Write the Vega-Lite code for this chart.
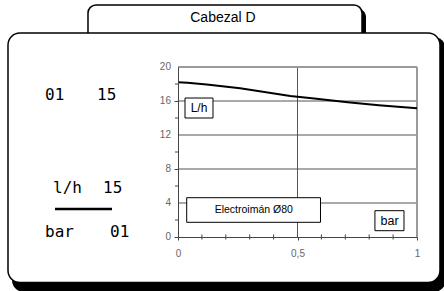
{
  "$schema": "https://vega.github.io/schema/vega-lite/v6.json",
  "width": 239,
  "height": 170,
  "autosize": "none",
  "padding": {"left": 178, "top": 67, "right": 27, "bottom": 54},
  "background": "white",
  "config": {
    "view": {"stroke": null},
    "font": "Liberation Sans"
  },
  "datasets": {
    "curve": [
      {"x": 0, "y": 18.2},
      {"x": 0.04, "y": 18.15},
      {"x": 0.12, "y": 17.95},
      {"x": 0.26, "y": 17.5},
      {"x": 0.47, "y": 16.6},
      {"x": 0.57, "y": 16.3},
      {"x": 0.71, "y": 15.85},
      {"x": 0.84, "y": 15.5},
      {"x": 1, "y": 15.15}
    ],
    "hgrid": [{"v": 4}, {"v": 8}, {"v": 12}, {"v": 16}],
    "vgrid": [{"v": 0.5}],
    "ylab": [{"v": 0}, {"v": 4}, {"v": 8}, {"v": 12}, {"v": 16}, {"v": 20}],
    "xminor": [{"v": 0.1}, {"v": 0.2}, {"v": 0.3}, {"v": 0.4}, {"v": 0.6}, {"v": 0.7}, {"v": 0.8}, {"v": 0.9}],
    "yminor": [{"v": 2}, {"v": 6}, {"v": 10}, {"v": 14}, {"v": 18}],
    "one": [{}]
  },
  "layer": [
    {
      "data": {"name": "one"},
      "mark": {"type": "rect", "color": "black", "cornerRadius": 8},
      "encoding": {
        "x": {"datum": -0.3724, "type": "quantitative", "scale": {"domain": [0, 1], "nice": false, "zero": false},
          "axis": {
            "title": null, "grid": false, "zindex": 1,
            "values": [0, 0.5, 1],
            "labelExpr": "datum.value == 0.5 ? '0,5' : (datum.value == 0 ? '0' : '1')",
            "labelOverlap": false, "labelBound": false, "labelFlush": false,
            "domainColor": "#444444", "tickColor": "#444444", "tickSize": 3,
            "labelColor": "#666666", "labelFontSize": 10, "labelFont": "Liberation Sans",
            "labelPadding": 8
          }},
        "x2": {"datum": 0.7866},
        "y": {"datum": 26.82, "type": "quantitative", "scale": {"domain": [0, 20], "nice": false, "zero": false},
          "axis": {
            "title": null, "grid": false, "zindex": 1, "labels": false,
            "values": [0, 4, 8, 12, 16, 20],
            "domainColor": "#444444", "tickColor": "#444444", "tickSize": 4
          }},
        "y2": {"datum": 22}
      }
    },
    {
      "data": {"name": "one"},
      "mark": {"type": "rect", "fill": "white", "stroke": "black", "strokeWidth": 1.5, "cornerRadius": 8},
      "encoding": {
        "x": {"datum": -0.3766, "type": "quantitative"},
        "x2": {"datum": 0.7699},
        "y": {"datum": 27.29, "type": "quantitative"},
        "y2": {"datum": 22}
      }
    },
    {
      "data": {"name": "one"},
      "mark": {"type": "rect", "color": "black", "cornerRadius": 12},
      "encoding": {
        "x": {"datum": -0.6946, "type": "quantitative"},
        "x2": {"datum": 1.1213},
        "y": {"datum": 23.53, "type": "quantitative"},
        "y2": {"datum": -6.47}
      }
    },
    {
      "data": {"name": "one"},
      "mark": {"type": "rect", "fill": "white", "stroke": "black", "strokeWidth": 1.5, "cornerRadius": 12},
      "encoding": {
        "x": {"datum": -0.7113, "type": "quantitative"},
        "x2": {"datum": 1.0962},
        "y": {"datum": 24, "type": "quantitative"},
        "y2": {"datum": -5.35}
      }
    },
    {
      "data": {"name": "one"},
      "mark": {"type": "text", "text": "Cabezal  D", "fontSize": 14, "font": "Liberation Sans", "align": "center", "baseline": "middle", "color": "black"},
      "encoding": {"x": {"datum": 0.188, "type": "quantitative"}, "y": {"datum": 25.76, "type": "quantitative"}}
    },
    {
      "data": {"name": "one"},
      "mark": {"type": "text", "text": "01", "fontSize": 16, "font": "DejaVu Sans Mono", "align": "left", "baseline": "middle", "color": "black"},
      "encoding": {"x": {"datum": -0.5565, "type": "quantitative"}, "y": {"datum": 16.71, "type": "quantitative"}}
    },
    {
      "data": {"name": "one"},
      "mark": {"type": "text", "text": "15", "fontSize": 16, "font": "DejaVu Sans Mono", "align": "left", "baseline": "middle", "color": "black"},
      "encoding": {"x": {"datum": -0.3389, "type": "quantitative"}, "y": {"datum": 16.71, "type": "quantitative"}}
    },
    {
      "data": {"name": "one"},
      "mark": {"type": "text", "text": "l/h", "fontSize": 16, "font": "DejaVu Sans Mono", "align": "left", "baseline": "middle", "color": "black"},
      "encoding": {"x": {"datum": -0.523, "type": "quantitative"}, "y": {"datum": 5.765, "type": "quantitative"}}
    },
    {
      "data": {"name": "one"},
      "mark": {"type": "text", "text": "15", "fontSize": 16, "font": "DejaVu Sans Mono", "align": "left", "baseline": "middle", "color": "black"},
      "encoding": {"x": {"datum": -0.3138, "type": "quantitative"}, "y": {"datum": 5.765, "type": "quantitative"}}
    },
    {
      "data": {"name": "one"},
      "mark": {"type": "text", "text": "bar", "fontSize": 16, "font": "DejaVu Sans Mono", "align": "left", "baseline": "middle", "color": "black"},
      "encoding": {"x": {"datum": -0.5565, "type": "quantitative"}, "y": {"datum": 0.588, "type": "quantitative"}}
    },
    {
      "data": {"name": "one"},
      "mark": {"type": "text", "text": "01", "fontSize": 16, "font": "DejaVu Sans Mono", "align": "left", "baseline": "middle", "color": "black"},
      "encoding": {"x": {"datum": -0.2845, "type": "quantitative"}, "y": {"datum": 0.588, "type": "quantitative"}}
    },
    {
      "data": {"name": "one"},
      "mark": {"type": "rule", "color": "black", "strokeWidth": 2.5},
      "encoding": {
        "x": {"datum": -0.5146, "type": "quantitative"},
        "x2": {"datum": -0.2762},
        "y": {"datum": 3.29, "type": "quantitative"}
      }
    },
    {
      "data": {"name": "ylab"},
      "mark": {"type": "text", "fontSize": 10, "font": "Liberation Sans", "align": "right", "baseline": "middle", "color": "#666666"},
      "encoding": {
        "x": {"datum": -0.0293, "type": "quantitative"},
        "y": {"field": "v", "type": "quantitative"},
        "text": {"field": "v", "type": "quantitative"}
      }
    },
    {
      "data": {"name": "hgrid"},
      "mark": {"type": "rule", "color": "#555555", "strokeWidth": 1},
      "encoding": {"y": {"field": "v", "type": "quantitative"}}
    },
    {
      "data": {"name": "vgrid"},
      "mark": {"type": "rule", "color": "#555555", "strokeWidth": 1},
      "encoding": {"x": {"field": "v", "type": "quantitative"}}
    },
    {
      "data": {"name": "xminor"},
      "mark": {"type": "rule", "color": "#444444", "strokeWidth": 1},
      "encoding": {"x": {"field": "v", "type": "quantitative"}, "y": {"datum": -0.3, "type": "quantitative"}, "y2": {"datum": 0.3}}
    },
    {
      "data": {"name": "yminor"},
      "mark": {"type": "rule", "color": "#444444", "strokeWidth": 1},
      "encoding": {"y": {"field": "v", "type": "quantitative"}, "x": {"datum": -0.0125, "type": "quantitative"}, "x2": {"datum": 0.004}}
    },
    {
      "data": {"name": "one"},
      "mark": {"type": "rule", "color": "#9a9a9a", "strokeWidth": 2},
      "encoding": {"y": {"datum": 20, "type": "quantitative"}}
    },
    {
      "data": {"name": "one"},
      "mark": {"type": "rule", "color": "#9a9a9a", "strokeWidth": 2},
      "encoding": {"x": {"datum": 1, "type": "quantitative"}}
    },
    {
      "data": {"name": "curve"},
      "mark": {"type": "line", "color": "black", "strokeWidth": 2},
      "encoding": {
        "x": {"field": "x", "type": "quantitative"},
        "y": {"field": "y", "type": "quantitative"}
      }
    },
    {
      "data": {"name": "one"},
      "mark": {"type": "rect", "fill": "white", "stroke": "black", "strokeWidth": 1},
      "encoding": {
        "x": {"datum": 0.0293, "type": "quantitative"},
        "x2": {"datum": 0.1464},
        "y": {"datum": 16.35, "type": "quantitative"},
        "y2": {"datum": 14.0}
      }
    },
    {
      "data": {"name": "one"},
      "mark": {"type": "text", "text": "L/h", "fontSize": 12, "font": "Liberation Sans", "align": "center", "baseline": "middle", "color": "black"},
      "encoding": {"x": {"datum": 0.088, "type": "quantitative"}, "y": {"datum": 15.15, "type": "quantitative"}}
    },
    {
      "data": {"name": "one"},
      "mark": {"type": "rect", "fill": "white", "stroke": "black", "strokeWidth": 1},
      "encoding": {
        "x": {"datum": 0.0364, "type": "quantitative"},
        "x2": {"datum": 0.5962},
        "y": {"datum": 4.624, "type": "quantitative"},
        "y2": {"datum": 1.729}
      }
    },
    {
      "data": {"name": "one"},
      "mark": {"type": "text", "text": "Electroimán Ø80", "fontSize": 10.5, "font": "Liberation Sans", "align": "center", "baseline": "middle", "color": "black"},
      "encoding": {"x": {"datum": 0.317, "type": "quantitative"}, "y": {"datum": 3.18, "type": "quantitative"}}
    },
    {
      "data": {"name": "one"},
      "mark": {"type": "rect", "fill": "white", "stroke": "black", "strokeWidth": 1},
      "encoding": {
        "x": {"datum": 0.824, "type": "quantitative"},
        "x2": {"datum": 0.9456},
        "y": {"datum": 3.094, "type": "quantitative"},
        "y2": {"datum": 0.741}
      }
    },
    {
      "data": {"name": "one"},
      "mark": {"type": "text", "text": "bar", "fontSize": 12.5, "font": "Liberation Sans", "align": "center", "baseline": "middle", "color": "black"},
      "encoding": {"x": {"datum": 0.885, "type": "quantitative"}, "y": {"datum": 1.92, "type": "quantitative"}}
    }
  ]
}
